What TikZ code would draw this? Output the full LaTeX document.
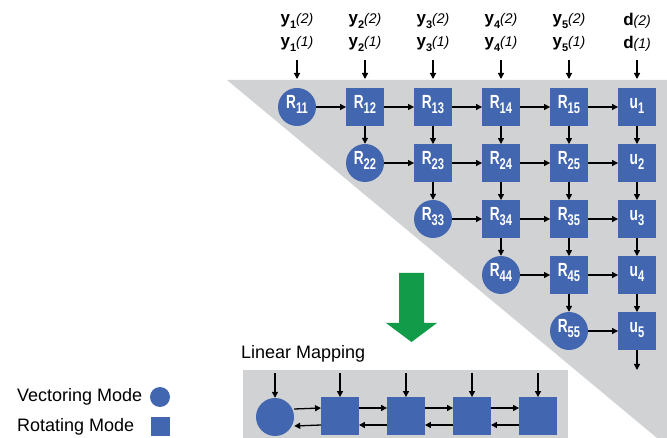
\documentclass[tikz,border=0pt]{standalone}
\usepackage{fontspec}
\setmainfont{Liberation Sans}
\usetikzlibrary{arrows.meta}
\definecolor{nodeblue}{HTML}{4266AF}
\definecolor{panelgray}{HTML}{D1D2D4}
\definecolor{arrowgreen}{HTML}{129B48}
\newcommand\nlab[2]{\raisebox{0pt}[12pt][8pt]{\scalebox{0.72}[1]{\fontsize{19}{19}\selectfont\bfseries #1\raisebox{-5pt}{\fontsize{15.5}{15.5}\selectfont #2}}}}
\newcommand\inlab[3]{\textbf{#1\raisebox{-0.25em}{\fontsize{11}{11}\selectfont #2}}{\fontsize{14}{14}\selectfont\textit{(#3)}}}
\begin{document}
\begin{tikzpicture}[x=1pt,y=-1pt,
  vmode/.style={circle,fill=nodeblue,minimum size=38pt,inner sep=0pt,text=white},
  rmode/.style={rectangle,fill=nodeblue,minimum size=37.5pt,inner sep=0pt,text=white},
  conn/.style={-{Triangle[length=6pt,width=6pt]},line width=1.3pt},
  inlabel/.style={font=\fontsize{17}{17}\selectfont,inner sep=0pt},
  legtext/.style={font=\fontsize{18}{18}\selectfont,anchor=west,inner sep=0pt}]
\useasboundingbox (0,0) rectangle (667,438);
\fill[panelgray] (227,80) -- (667,80) -- (667,438) -- (657,438) -- cycle;
\fill[panelgray] (243,370) rectangle (568,438);
% grid nodes
\foreach \i in {1,...,5}{
  \foreach \j in {\i,...,5}{
    \ifnum\j=\i
      \node[vmode] (R\i\j) at ({297+68*(\j-1)},{107+56*(\i-1)}) {\nlab{R}{\i\j}};
    \else
      \node[rmode] (R\i\j) at ({297+68*(\j-1)},{107+56*(\i-1)}) {\nlab{R}{\i\j}};
    \fi
  }
  \node[rmode] (u\i) at (637,{107+56*(\i-1)}) {\nlab{u}{\i}};
}
% horizontal connectors
\foreach \i in {1,...,4}{
  \foreach \j in {\i,...,4}{
    \pgfmathtruncatemacro\k{\j+1}
    \draw[conn] (R\i\j) -- (R\i\k);
  }
}
\foreach \i in {1,...,5}{\draw[conn] (R\i5) -- (u\i);}
% vertical connectors
\foreach \j in {2,...,5}{
  \pgfmathtruncatemacro\m{\j-1}
  \foreach \i in {1,...,\m}{
    \pgfmathtruncatemacro\k{\i+1}
    \draw[conn] (R\i\j) -- (R\k\j);
  }
}
\foreach \i in {1,...,4}{
  \pgfmathtruncatemacro\k{\i+1}
  \draw[conn] (u\i) -- (u\k);
}
\coordinate (uout) at (637,370);
\draw[conn] (u5) -- (uout);
% inputs
\foreach \j in {1,...,5}{
  \node[inlabel] (ina\j) at ({297+68*(\j-1)},21) {\inlab{y}{\j}{2}};
  \node[inlabel] (inb\j) at ({297+68*(\j-1)},44) {\inlab{y}{\j}{1}};
  \coordinate (ins\j) at ({297+68*(\j-1)},60);
  \coordinate (ine\j) at ({297+68*(\j-1)},79);
  \draw[conn] (ins\j) -- (ine\j);
}
\node[inlabel] (ina6) at (637,21) {\textbf{d}{\fontsize{14}{14}\selectfont\textit{(2)}}};
\node[inlabel] (inb6) at (637,44) {\textbf{d}{\fontsize{14}{14}\selectfont\textit{(1)}}};
\coordinate (ins6) at (637,60);
\coordinate (ine6) at (637,79);
\draw[conn] (ins6) -- (ine6);
% green arrow
\fill[arrowgreen] (399,273) -- (424,273) -- (424,323) -- (437,323) -- (411.5,342) -- (386,323) -- (399,323) -- cycle;
% linear mapping
\node[legtext] (lmtitle) at (241,354) {Linear Mapping};
\node[vmode] (b1) at (275,417) {};
\node[rmode] (b2) at (340,416) {};
\node[rmode] (b3) at (406,416) {};
\node[rmode] (b4) at (472,416) {};
\node[rmode] (b5) at (538,416) {};
\foreach \k/\x in {1/275,2/340,3/406,4/472,5/538}{
  \coordinate (bin\k) at (\x,373);
  \draw[conn] (bin\k) -- (b\k.north);
}
\foreach \k in {1,...,4}{
  \pgfmathtruncatemacro\m{\k+1}
  \draw[conn] ([yshift=8pt]b\k.east) -- ([yshift=8pt]b\m.west);
  \draw[conn] ([yshift=-9pt]b\m.west) -- ([yshift=-9pt]b\k.east);
}
% legend
\node[legtext] (legv) at (17,397) {Vectoring Mode};
\node[legtext] (legr) at (17,427) {Rotating Mode};
\node[circle,fill=nodeblue,minimum size=20pt,inner sep=0pt] (legc) at (160,397) {};
\node[rectangle,fill=nodeblue,minimum size=19pt,inner sep=0pt] (legs) at (160,426) {};
\end{tikzpicture}
\end{document}
